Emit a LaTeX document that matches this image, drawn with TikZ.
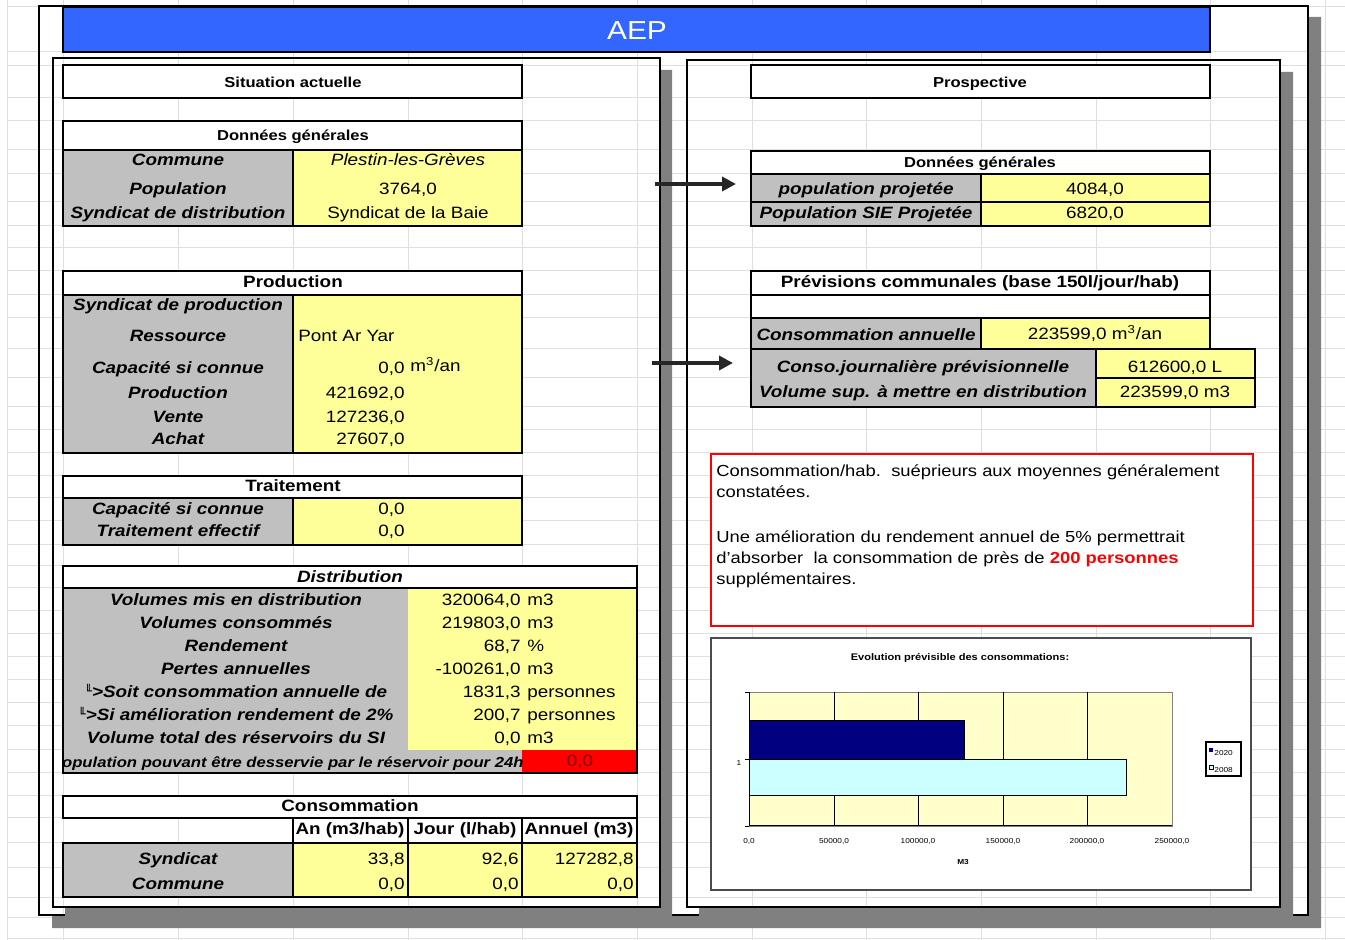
\documentclass[tikz,border=0pt]{standalone}
\usepackage{fontspec}
\setmainfont{Liberation Sans}[FakeStretch=1.15]
\newfontfamily\dejavu{DejaVu Sans}
\usetikzlibrary{arrows.meta}
\definecolor{bleuaep}{RGB}{51,102,255}
\definecolor{gris}{RGB}{192,192,192}
\definecolor{jaune}{RGB}{255,255,153}
\definecolor{jauneclair}{RGB}{255,255,204}
\definecolor{marine}{RGB}{0,0,128}
\definecolor{cyanclair}{RGB}{204,255,255}
\newcommand{\coinL}{\raisebox{1pt}{\dejavu\fontsize{6}{6}\selectfont ╙}}
\begin{document}
\begin{tikzpicture}[x=0.5pt,y=-0.5pt,inner sep=0pt,
    lbl/.style={anchor=mid,font=\fontsize{8.2}{9}\selectfont\bfseries\itshape},
    val/.style={anchor=mid,font=\fontsize{8.2}{9}\selectfont},
    hd/.style={anchor=mid,font=\fontsize{8.2}{9}\selectfont\bfseries},
    hdsmall/.style={anchor=mid,font=\fontsize{7.2}{8}\selectfont\bfseries},
    ticklab/.style={anchor=mid,font=\fontsize{3.6}{4}\selectfont},
    tbl/.style={line width=1.3pt},
    panel/.style={line width=0.6pt},
    ombre/.style={fill=black!50},
    fleche/.style={line width=1.8pt,black!85,-{Triangle[length=7pt,width=7pt]}}]
  \useasboundingbox (0,0) rectangle (1345,940);
  \foreach \x in {7,63,178,293,408,522,637,752,866,981,1096,1210,1325}
    \draw[gray!25,line width=0.5pt] (\x,0) -- (\x,940);
  \foreach \y in {7,52,66,98,121,150,174,202,226,248,271,295,318,349,378,407,430,453,476,498,521,545,566,588,611,634,657,680,703,726,750,773,796,818,843,868,897,917,938}
    \draw[gray!25,line width=0.5pt] (7,\y) -- (1345,\y);

  \fill[ombre] (1308,17) rectangle (1321,928) (52,915) rectangle (1321,928);
  \draw[panel] (39,6) rectangle (1308,915);
  \fill[ombre] (660,70) rectangle (672,919) (65,907) rectangle (672,919);
  \draw[panel] (53,58) rectangle (660,907);
  \fill[ombre] (1280,72) rectangle (1293,919) (699,907) rectangle (1293,919);
  \draw[panel] (687,60) rectangle (1280,907);

  \draw[fill=bleuaep,line width=1.2pt] (63,7) rectangle (1210,52);
  \node[font=\fontsize{13}{15}\selectfont,text=white] (aep) at (637,31) {AEP};

  \draw[tbl,fill=white] (63,65) rectangle (522,98);
  \node[hdsmall] (situation) at (293,82) {Situation actuelle};

  \draw[tbl,fill=white] (63,121) rectangle (522,150);
  \node[hdsmall] (dgl) at (293,135) {Données générales};
  \fill[gris] (63,150) rectangle (293,226);
  \fill[jaune] (293,150) rectangle (522,226);
  \draw[tbl] (63,150) rectangle (522,226) (293,150) -- (293,226);
  \foreach \lab/\nb/\yy [count=\i] in {Commune/{\itshape Plestin-les-Grèves}/160,Population/{3764,0}/189,Syndicat de distribution/Syndicat de la Baie/213}{
    \node[lbl] (dgl\i) at (178,\yy) {\lab};
    \node[val] (dglv\i) at (408,\yy) {\nb};}

  \draw[tbl,fill=white] (63,271) rectangle (522,295);
  \node[hd] (prod) at (293,282) {Production};
  \fill[gris] (63,295) rectangle (293,453);
  \fill[jaune] (293,295) rectangle (522,453);
  \draw[tbl] (63,295) rectangle (522,453) (293,295) -- (293,453);
  \foreach \lab/\yy [count=\i] in {Syndicat de production/305,Ressource/336,Capacité si connue/368,Production/393,Vente/417,Achat/439}
    \node[lbl] (prod\i) at (178,\yy) {\lab};
  \node[val,anchor=mid west] (prodv2) at (298,336) {Pont Ar Yar};
  \foreach \nb/\yy [count=\i from 3] in {{0,0}/368,{421692,0}/393,{127236,0}/417,{27607,0}/439}
    \node[val,anchor=mid east] (prodv\i) at (405,\yy) {\nb};
  \node[val,anchor=mid west] (produ3) at (410,366) {m\textsuperscript{3}/an};

  \draw[tbl,fill=white] (63,476) rectangle (522,498);
  \node[hd] (trait) at (293,486) {Traitement};
  \fill[gris] (63,498) rectangle (293,545);
  \fill[jaune] (293,498) rectangle (522,545);
  \draw[tbl] (63,498) rectangle (522,545) (293,498) -- (293,545);
  \foreach \lab/\yy [count=\i] in {Capacité si connue/509,Traitement effectif/531}{
    \node[lbl] (trait\i) at (178,\yy) {\lab};
    \node[val,anchor=mid east] (traitv\i) at (405,\yy) {0,0};}

  \draw[tbl,fill=white] (63,566) rectangle (637,588);
  \node[lbl] (dist) at (350,577) {Distribution};
  \fill[gris] (63,588) rectangle (408,750) (63,750) rectangle (522,773);
  \fill[jaune] (408,588) rectangle (637,750);
  \fill[red] (522,750) rectangle (637,773);
  \foreach \lab/\nb/\un/\yy [count=\i] in {Volumes mis en distribution/{320064,0}/m3/600,Volumes consommés/{219803,0}/m3/623,Rendement/{68,7}/\%/646,Pertes annuelles/{-100261,0}/m3/669,\coinL>Soit consommation annuelle de/{1831,3}/personnes/692,\coinL>Si amélioration rendement de 2\%/{200,7}/personnes/715,Volume total des réservoirs du SI/{0,0}/m3/738}{
    \node[lbl] (dist\i) at (236,\yy) {\lab};
    \node[val,anchor=mid east] (distv\i) at (521,\yy) {\nb};
    \node[val,anchor=mid west] (distu\i) at (527,\yy) {\un};}
  \begin{scope}
    \clip (63,750) rectangle (522,773);
    \node[anchor=mid east,font=\fontsize{7.25}{8}\selectfont\bfseries\itshape] (dist8) at (524,762) {Population pouvant être desservie par le réservoir pour 24h};
  \end{scope}
  \node[val,text=red!55!black] (distv8) at (580,761) {0,0};
  \draw[tbl] (63,588) rectangle (637,773);

  \draw[tbl,fill=white] (63,796) rectangle (637,818);
  \node[hd] (conso) at (350,806) {Consommation};
  \foreach \x/\lab [count=\i] in {293/{An (m3/hab)},408/{Jour (l/hab)},522/{Annuel (m3)}}{
    \draw[tbl,fill=white] (\x,818) rectangle (\x+115,843);
    \node[hd] (col\i) at (\x+57,829) {\lab};}
  \fill[gris] (63,843) rectangle (293,897);
  \fill[jaune] (293,843) rectangle (637,897);
  \draw[tbl] (63,843) rectangle (637,897) (293,843) -- (293,897) (408,843) -- (408,897) (522,843) -- (522,897);
  \node[lbl] (consyn) at (178,859) {Syndicat};
  \node[lbl] (concom) at (178,884) {Commune};
  \foreach \x/\nb [count=\i] in {405/{33,8},519/{92,6},634/{127282,8}}
    \node[val,anchor=mid east] (consynv\i) at (\x,859) {\nb};
  \foreach \x [count=\i] in {405,519,634}
    \node[val,anchor=mid east] (concomv\i) at (\x,884) {0,0};

  \draw[tbl,fill=white] (751,65) rectangle (1210,98);
  \node[hdsmall] (prosp) at (980,82) {Prospective};

  \draw[tbl,fill=white] (751,151) rectangle (1210,174);
  \node[hdsmall] (dgr) at (980,162) {Données générales};
  \fill[gris] (751,174) rectangle (981,226);
  \fill[jaune] (981,174) rectangle (1210,226);
  \draw[tbl] (751,174) rectangle (1210,226) (751,202) -- (1210,202) (981,174) -- (981,226);
  \foreach \lab/\nb/\yy [count=\i] in {population projetée/{4084,0}/189,Population SIE Projetée/{6820,0}/213}{
    \node[lbl] (dgr\i) at (866,\yy) {\lab};
    \node[val] (dgrv\i) at (1095,\yy) {\nb};}

  \draw[tbl,fill=white] (751,271) rectangle (1210,295);
  \node[hd] (prev) at (980,282) {Prévisions communales (base 150l/jour/hab)};
  \draw[tbl,fill=white] (751,295) rectangle (1210,318);
  \fill[gris] (751,318) rectangle (981,349);
  \fill[jaune] (981,318) rectangle (1210,349);
  \draw[tbl] (751,318) rectangle (1210,349) (981,318) -- (981,349);
  \node[lbl] (prev1) at (866,335) {Consommation annuelle};
  \node[val] (prevv1) at (1095,334) {223599,0 m\textsuperscript{3}/an};
  \fill[gris] (751,349) rectangle (1096,407);
  \fill[jaune] (1096,349) rectangle (1255,407);
  \draw[tbl] (751,349) rectangle (1255,407) (1096,349) -- (1096,407) (1096,378) -- (1255,378);
  \node[lbl] (prev2) at (923,367) {Conso.journalière prévisionnelle};
  \node[lbl] (prev3) at (923,392) {Volume sup. à mettre en distribution};
  \node[val] (prevv2) at (1175,367) {612600,0 L};
  \node[val] (prevv3) at (1175,392) {223599,0 m3};

  \coordinate (fa1) at (655,184);
  \coordinate (fb1) at (736,184);
  \coordinate (fa2) at (652,363);
  \coordinate (fb2) at (733,363);
  \draw[fleche] (fa1) -- (fb1);
  \draw[fleche] (fa2) -- (fb2);

  \draw[red,line width=1pt,fill=white] (711,454) rectangle (1253,626);
  \node[anchor=north west,align=left,font=\fontsize{8}{10.5}\selectfont] (note) at (716,464)
    {Consommation/hab.\ \ suéprieurs\ aux\ moyennes\ généralement\\constatées.\\[12pt]Une amélioration du rendement annuel de 5\% permettrait\\d'absorber\ \ la consommation de près de \textcolor{red}{\bfseries 200 personnes}\\supplémentaires.};

  \draw[black!70,line width=0.8pt,fill=white] (711,638) rectangle (1251,890);
  \node[font=\fontsize{4.8}{5}\selectfont\bfseries] (titre) at (960,658) {Evolution prévisible des consommations:};
  \draw[gray,fill=jauneclair,line width=0.4pt] (749,692) rectangle (1172,826);
  \foreach \x in {834,918,1003,1087}
    \draw[line width=0.4pt] (\x,692) -- (\x,826);
  \draw[line width=0.4pt,fill=marine] (749,720) rectangle (964,759);
  \draw[line width=0.4pt,fill=cyanclair] (749,759) rectangle (1126,795);
  \draw[line width=0.5pt] (749,692) -- (749,826) -- (1172,826);
  \foreach \yy in {692,759,826}
    \draw[line width=0.4pt] (745,\yy) -- (749,\yy);
  \foreach \x/\lab [count=\i] in {749/{0,0},834/{50000,0},918/{100000,0},1003/{150000,0},1087/{200000,0},1172/{250000,0}}
    \node[ticklab] (tick\i) at (\x,838) {\lab};
  \node[ticklab,font=\fontsize{3.6}{4}\selectfont\bfseries] (axe) at (963,859) {M3};
  \node[ticklab] (cat) at (739,760) {1};
  \draw[line width=0.6pt,fill=white] (1206,742) rectangle (1241,776);
  \fill[marine] (1209,748) rectangle (1213,752);
  \draw[line width=0.3pt,fill=cyanclair] (1209,765) rectangle (1213,769);
  \node[ticklab,anchor=mid west] (leg1) at (1214,750) {2020};
  \node[ticklab,anchor=mid west] (leg2) at (1214,767) {2008};
\end{tikzpicture}
\end{document}
